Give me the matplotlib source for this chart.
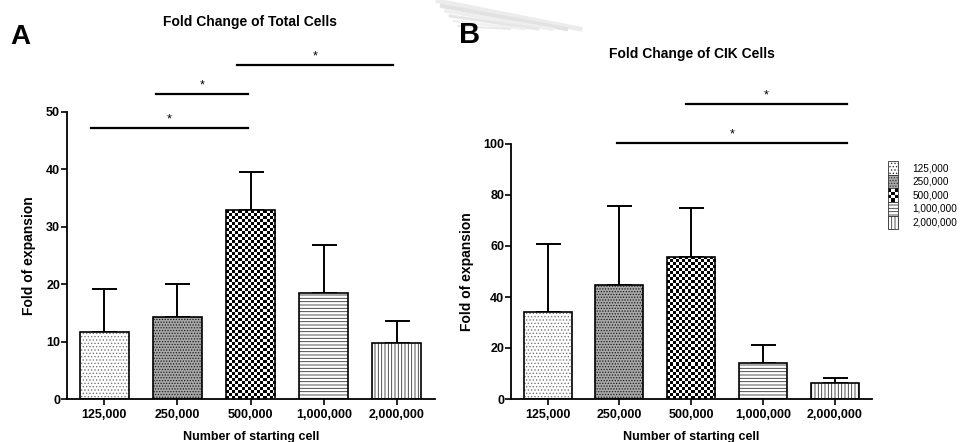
import numpy as np
import matplotlib.pyplot as plt
from matplotlib.patches import Patch, Rectangle
from matplotlib.legend_handler import HandlerPatch

plt.rcParams['font.family'] = ['Liberation Sans', 'DejaVu Sans']
plt.rcParams['hatch.linewidth'] = 0.6

groups = ['125,000', '250,000', '500,000', '1,000,000', '2,000,000']

# fold of expansion, mean and SD
total_mean = [11.7, 14.2, 32.9, 18.4, 9.7]
total_sd = [7.4, 5.8, 6.6, 8.4, 3.9]
cik_mean = [34.1, 44.7, 55.7, 14.1, 6.4]
cik_sd = [26.7, 31.0, 19.2, 7.1, 1.9]

# significance bars: (x start, x end, height)
total_sig = [(-0.18, 1.96, 47.2), (0.71, 1.96, 53.1), (1.81, 3.95, 58.2)]
cik_sig = [(0.96, 4.17, 100.5), (1.93, 4.17, 115.7)]

hatches = ['.....', '......', None, '-----', '|||||']
hatch_cols = ['#777777', '#1a1a1a', 'black', '#333333', '#333333']
faces = ['white', '#a8a8a8', 'white', 'white', 'white']
CHECK_PX = 3.0


def checker(nr, nc):
    return (np.add.outer(np.arange(nr), np.arange(nc)) % 2).astype(float)


def draw_panel(ax, means, sds, sig, ymax, ystep):
    x = np.arange(len(groups))
    ax.set_xlim(-0.51, 4.52)
    ax.set_ylim(0, ymax)
    # hatch layer, then the outline on top
    for i in range(len(x)):
        ax.bar(x[i], means[i], width=0.67, color=faces[i], hatch=hatches[i],
               edgecolor=hatch_cols[i], linewidth=0, zorder=2)
    outl = ax.bar(x, means, width=0.67, facecolor='none', edgecolor='black',
                  linewidth=1.2, zorder=4)
    # checkerboard fill for the 500,000 bar
    b = outl[2]
    x0, x1 = b.get_x(), b.get_x() + b.get_width()
    p0 = ax.transData.transform((x0, 0))
    p1 = ax.transData.transform((x1, b.get_height()))
    nc = int(round((p1[0] - p0[0]) / CHECK_PX))
    nr = int(round((p1[1] - p0[1]) / CHECK_PX))
    im = ax.imshow(checker(nr, nc), cmap='gray', extent=(x0, x1, 0, b.get_height()),
                   aspect='auto', interpolation='nearest', zorder=3, origin='lower')
    im.set_clip_path(b)
    ax.set_xlim(-0.51, 4.52)
    ax.set_ylim(0, ymax)

    ax.errorbar(x, means, yerr=[np.zeros(len(x)), sds], fmt='none', ecolor='black',
                elinewidth=1.4, capsize=9, capthick=1.4, zorder=1)

    for s0, s1, h in sig:
        ax.plot([s0, s1], [h, h], color='black', lw=1.6, clip_on=False, zorder=5)
        ax.annotate('*', xy=((s0 + s1) / 2, h), xytext=(0, 2), textcoords='offset points',
                    ha='center', va='bottom', fontsize=9, annotation_clip=False)

    ax.set_xticks(x)
    ax.set_xticklabels(groups, fontsize=9, fontweight='bold')
    ax.set_yticks(np.arange(0, ymax + 1, ystep))
    ax.tick_params(axis='y', labelsize=9, width=1.2, length=4, pad=1)
    ax.tick_params(axis='x', width=1.2, length=4, pad=3)
    for lab in ax.get_yticklabels():
        lab.set_fontweight('bold')
    for sp in ['top', 'right']:
        ax.spines[sp].set_visible(False)
    for sp in ['left', 'bottom']:
        ax.spines[sp].set_linewidth(1.3)
    ax.set_ylabel('Fold of expansion', fontsize=10, fontweight='bold')
    ax.set_xlabel('Number of starting cell', fontsize=9, fontweight='bold')


class CheckerHandler(HandlerPatch):
    def create_artists(self, legend, orig_handle, xdescent, ydescent, width, height,
                       fontsize, trans):
        arts = []
        nc, nr = 3, 4
        cw, ch = width / nc, height / nr
        for r in range(nr):
            for c in range(nc):
                col = 'black' if (r + c) % 2 else 'white'
                arts.append(Rectangle((-xdescent + c * cw, -ydescent + r * ch), cw, ch,
                                      facecolor=col, edgecolor='none', transform=trans))
        arts.append(Rectangle((-xdescent, -ydescent), width, height, facecolor='none',
                              edgecolor='#333333', lw=0.6, transform=trans))
        return arts


W, H = 973, 442
fig = plt.figure(figsize=(W / 100, H / 100), dpi=100)
axA = fig.add_axes([67 / W, 1 - 399 / H, 368 / W, 287 / H])
axB = fig.add_axes([511 / W, 1 - 399 / H, 361 / W, 255 / H])

draw_panel(axA, total_mean, total_sd, total_sig, 50, 10)
draw_panel(axB, cik_mean, cik_sd, cik_sig, 100, 20)

axA.yaxis.set_label_coords(-0.084, 0.5)
axB.yaxis.set_label_coords(-0.102, 0.5)
axA.xaxis.set_label_coords(0.5, -0.11)
axB.xaxis.set_label_coords(0.5, -0.124)

fig.text(250 / W, 1 - 22 / H, 'Fold Change of Total Cells', ha='center', va='center',
         fontsize=10, fontweight='bold')
fig.text(692 / W, 1 - 54 / H, 'Fold Change of CIK Cells', ha='center', va='center',
         fontsize=10, fontweight='bold')
fig.text(10 / W, 1 - 44 / H, 'A', fontsize=20, fontweight='bold', va='baseline')
fig.text(459 / W, 1 - 43 / H, 'B', fontsize=21, fontweight='bold', va='baseline')

# faint streaks behind the B label
for k, c in enumerate(['#ececec', '#e2e2e2', '#eeeeee', '#e6e6e6', '#f0f0f0', '#e9e9e9']):
    fig.add_artist(plt.Line2D([(438 + 4 * k) / W, (580 - 14 * k) / W],
                              [1 - (1 + 5 * k) / H, 1 - 29 / H],
                              color=c, lw=3.4 - 0.4 * k, transform=fig.transFigure,
                              zorder=-1))

handles = []
for i in range(len(groups)):
    handles.append(Patch(facecolor=faces[i], hatch=hatches[i], edgecolor='#333333',
                         linewidth=0.6, label=groups[i]))
fig.legend(handles=handles, labels=groups, loc='upper left',
           bbox_to_anchor=(888 / W, 1 - 161 / H), frameon=False, fontsize=7.2,
           handlelength=1.0, handleheight=1.72, handletextpad=1.45, labelspacing=0,
           borderpad=0, borderaxespad=0, handler_map={handles[2]: CheckerHandler()})

fig.savefig('out.png', dpi=100, facecolor='white')
